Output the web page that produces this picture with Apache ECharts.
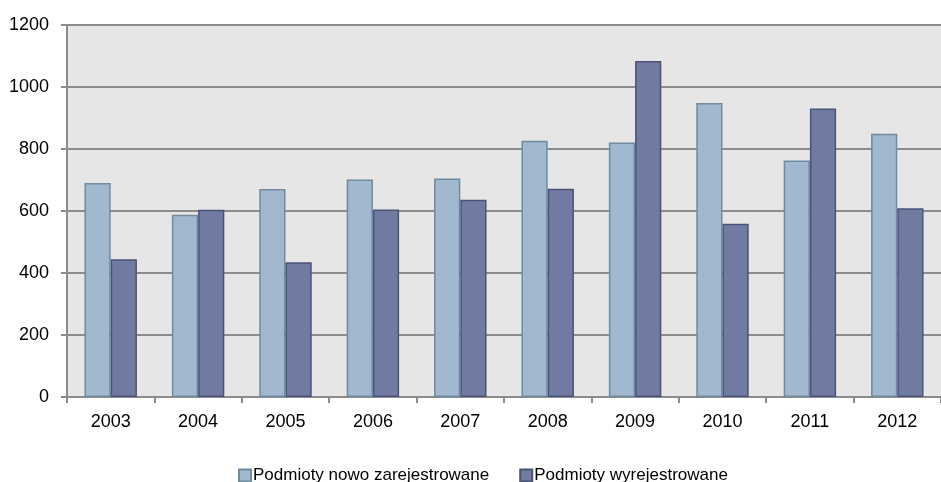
<!DOCTYPE html>
<html><head><meta charset="utf-8">
<script src="https://cdn.jsdelivr.net/npm/echarts@6/dist/echarts.min.js"></script>
<style>html,body{margin:0;padding:0;background:#fff}#c{width:941px;height:482px}</style>
</head><body><div id="c"></div>
<script>
const categories = ['2003','2004','2005','2006','2007','2008','2009','2010','2011','2012'];
const newlyRegistered = [690, 588, 671, 702, 705, 827, 821, 948, 763, 849];
const deregistered = [444, 604, 435, 605, 636, 672, 1084, 559, 931, 609];
const yTicks = [0, 200, 400, 600, 800, 1000, 1200];
const seriesNames = ['Podmioty nowo zarejestrowane', 'Podmioty wyrejestrowane'];

const FONT = "'Liberation Sans', Arial, sans-serif";
const chart = echarts.init(document.getElementById('c'), null, {renderer: 'canvas'});
chart.setOption({
  animation: false,
  grid: {left: 67, top: 25, width: 886, bottom: 85, show: true, backgroundColor: '#E6E6E6', borderWidth: 0, containLabel: false},
  legend: {
    data: seriesNames, left: 233, top: 462, itemWidth: 12, itemHeight: 12, itemGap: 30,
    icon: 'rect',
    textStyle: {fontFamily: FONT, fontSize: 17, color: '#000', padding: [0,0,0,-3]}
  },
  xAxis: {
    type: 'category', data: categories,
    axisLine: {lineStyle: {color: '#8C8C8C', width: 2}},
    axisTick: {show: true, length: 6, alignWithLabel: false, lineStyle: {color: '#8C8C8C', width: 2}},
    axisLabel: {fontFamily: FONT, fontSize: 18, color: '#000', margin: 16}
  },
  yAxis: {
    type: 'value', min: yTicks[0], max: yTicks[yTicks.length-1], interval: 200,
    axisLine: {show: true, lineStyle: {color: '#8C8C8C', width: 2}},
    axisTick: {show: true, length: 6, lineStyle: {color: '#8C8C8C', width: 2}},
    splitLine: {lineStyle: {color: '#8C8C8C', width: 2}},
    axisLabel: {fontFamily: FONT, fontSize: 18, color: '#000', margin: 18, formatter: v => String(v)}
  },
  series: [
    {name: seriesNames[0], type: 'bar', data: newlyRegistered, barGap: '0%', barCategoryGap: '40%',
     itemStyle: {color: '#A2B8CF', borderColor: '#6F8BA0', borderWidth: 1.5}},
    {name: seriesNames[1], type: 'bar', data: deregistered,
     itemStyle: {color: '#717AA0', borderColor: '#4A5478', borderWidth: 1.5}}
  ]
});
</script></body></html>
